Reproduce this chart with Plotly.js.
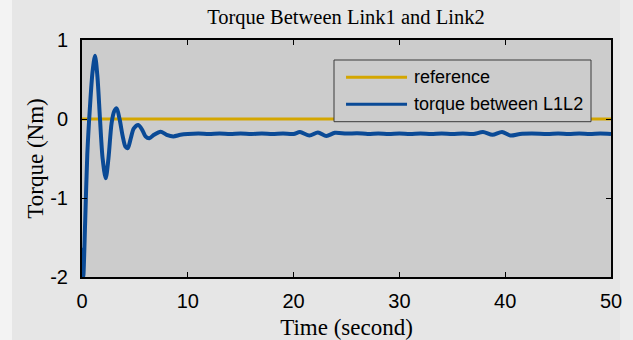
<!DOCTYPE html>
<html>
<head>
<meta charset="utf-8">
<script src="https://cdn.plot.ly/plotly-3.0.1.min.js"></script>
<style>html,body{margin:0;padding:0;background:#e6e6e6;}#chart{width:633px;height:340px;}</style>
</head>
<body>
<div id="chart"></div>
<script>
// Data
var timeS = [0, 0.06, 0.12, 0.3, 0.5, 0.75, 1.0, 1.23, 1.45, 1.7, 1.95, 2.24, 2.5, 2.8, 3.05, 3.28, 3.55, 3.85, 4.1, 4.32, 4.6, 4.9, 5.32, 5.7, 6.0, 6.36, 6.8, 7.43, 8.0, 8.63, 9.3, 10, 11, 12, 13, 14, 15, 16, 17, 18, 19, 20, 20.6, 21.5, 22.3, 23.1, 23.9, 25, 26, 27, 28, 29, 30, 31, 32, 33, 34, 35, 36, 37, 37.9, 38.8, 39.7, 40.5, 41.4, 42.5, 44, 45, 46, 47, 48, 49, 50];
var torqueL1L2 = [-1.63, -1.85, -2.0, -1.3, -0.45, 0.15, 0.6, 0.80, 0.55, 0.0, -0.5, -0.75, -0.5, -0.05, 0.1, 0.135, 0.0, -0.22, -0.35, -0.37, -0.25, -0.12, -0.076, -0.14, -0.22, -0.245, -0.2, -0.16, -0.2, -0.22, -0.2, -0.19, -0.185, -0.19, -0.185, -0.19, -0.185, -0.19, -0.185, -0.19, -0.185, -0.19, -0.165, -0.21, -0.17, -0.215, -0.175, -0.185, -0.18, -0.19, -0.185, -0.19, -0.185, -0.19, -0.185, -0.19, -0.185, -0.19, -0.185, -0.19, -0.165, -0.2, -0.165, -0.21, -0.19, -0.185, -0.19, -0.185, -0.19, -0.185, -0.19, -0.185, -0.19];
var refTime = [0, 50];
var refValue = [0, 0];
var seriesNames = ['reference', 'torque between L1L2'];
var seriesColors = ['#d4a600', '#0a4a96'];
var xTicks = [0, 10, 20, 30, 40, 50];
var xTickText = ['0', '10', '20', '30', '40', '50'];
var yTicks = [-2, -1, 0, 1];
var yTickText = ['-2', '-1', '0', '1'];

var traces = [
  {x: refTime, y: refValue, mode: 'lines', name: seriesNames[0],
   line: {color: seriesColors[0], width: 3}},
  {x: timeS, y: torqueL1L2, mode: 'lines', name: seriesNames[1],
   line: {color: seriesColors[1], width: 4, shape: 'spline', smoothing: 0.8}}
];

var serif = 'Liberation Serif, Times New Roman, serif';
var sans = 'Liberation Sans, Arial, sans-serif';

// legend drawn in paper coordinates (box, sample lines, labels)
var lgX0 = 0.4764, lgX1 = 0.9622, lgY0 = 0.6553, lgY1 = 0.9156;
var rowY = [0.8426, 0.7287];
var shapes = [
  {type: 'rect', xref: 'paper', yref: 'paper', x0: -0.16, x1: -0.1323, y0: -0.3, y1: 1.2, line: {width: 0}, fillcolor: '#f3f3f3', layer: 'below'},
  {type: 'rect', xref: 'paper', yref: 'paper', x0: 1.017, x1: 1.06, y0: -0.3, y1: 1.2, line: {width: 0}, fillcolor: '#ececec', layer: 'below'},
  {type: 'rect', xref: 'paper', yref: 'paper', x0: lgX0, x1: lgX1, y0: lgY0, y1: lgY1, line: {color: '#3a3a3a', width: 1}, fillcolor: '#cccccc', layer: 'above'}
];
var annotations = [];
for (var i = 0; i < seriesNames.length; i++) {
  shapes.push({type: 'line', xref: 'paper', yref: 'paper', x0: 0.4991, x1: 0.6144, y0: rowY[i], y1: rowY[i],
               line: {color: seriesColors[i], width: 3}, layer: 'above'});
  annotations.push({xref: 'paper', yref: 'paper', x: 0.6238, y: rowY[i], xanchor: 'left', yanchor: 'middle',
                    text: seriesNames[i], showarrow: false, font: {family: sans, size: 18, color: '#000'}});
}

var layout = {
  width: 633, height: 340,
  margin: {l: 82, r: 22, t: 40, b: 63},
  paper_bgcolor: '#e6e6e6',
  plot_bgcolor: '#cccccc',
  showlegend: false,
  title: {text: 'Torque Between Link1 and Link2', font: {family: serif, size: 20.5, color: '#000'},
          x: 0.5465, xanchor: 'center', y: 0.95, yanchor: 'middle'},
  xaxis: {range: [0, 50], tickvals: xTicks, ticktext: xTickText, ticks: 'inside', ticklen: 5, tickwidth: 1, tickcolor: '#000',
          showline: true, linecolor: '#000', linewidth: 2, mirror: 'ticks', showgrid: false, zeroline: false,
          tickfont: {family: sans, size: 20, color: '#000'}, ticklabelstandoff: 5,
          title: {text: 'Time (second)', font: {family: serif, size: 23, color: '#000'}, standoff: 8}},
  yaxis: {range: [-2, 1], tickvals: yTicks, ticktext: yTickText, ticks: 'inside', ticklen: 5, tickwidth: 1, tickcolor: '#000',
          showline: true, linecolor: '#000', linewidth: 2, mirror: 'ticks', showgrid: false, zeroline: false,
          tickfont: {family: sans, size: 20, color: '#000'}, ticklabelstandoff: 8,
          title: {text: 'Torque (Nm)', font: {family: serif, size: 23, color: '#000'}, standoff: 0}},
  shapes: shapes,
  annotations: annotations
};

Plotly.newPlot('chart', traces, layout, {staticPlot: true, displayModeBar: false});
</script>
</body>
</html>
